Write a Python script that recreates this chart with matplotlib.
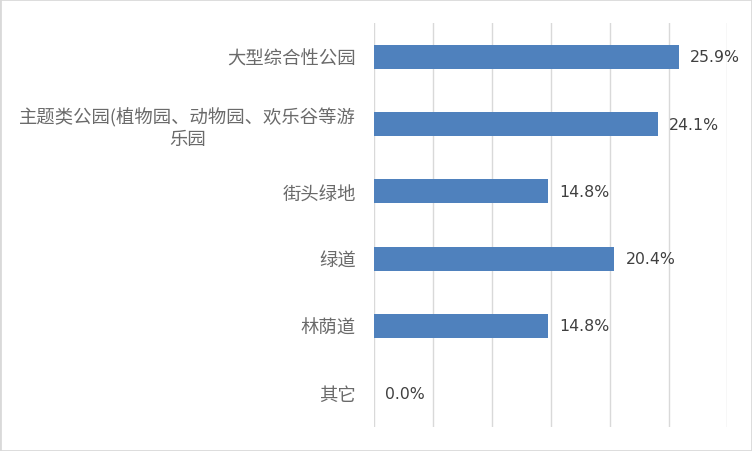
import matplotlib.pyplot as plt
from matplotlib.patches import Rectangle

# Data (top to bottom)
categories = ['大型综合性公园',
              '主题类公园(植物园、动物园、欢乐谷等游\n乐园',
              '街头绿地',
              '绿道',
              '林荫道',
              '其它']
values = [25.9, 24.1, 14.8, 20.4, 14.8, 0.0]
value_labels = ['25.9%', '24.1%', '14.8%', '20.4%', '14.8%', '0.0%']

plt.rcParams['font.family'] = ['Noto Sans CJK SC', 'DejaVu Sans']

fig = plt.figure(figsize=(7.52, 4.52), dpi=100)
ax = fig.add_axes([0.4973, 0.0531, 0.4701, 0.8938])

y = list(range(len(categories)))
ax.barh(y, values, height=0.36, color='#4F81BD', zorder=3)
ax.set_ylim(len(categories) - 0.5, -0.5)
ax.set_xlim(0, 30)
ax.set_xticks(range(0, 31, 5))
ax.set_xticklabels([])
ax.grid(axis='x', color='#D9D9D9', linewidth=1, zorder=0)
ax.tick_params(length=0)
ax.tick_params(axis='y', pad=13)
for s in ax.spines.values():
    s.set_visible(False)

ax.set_yticks(y)
ax.set_yticklabels(categories, fontsize=13.2, color='#6a6a6a', fontweight='light')
for lbl in ax.get_yticklabels():
    lbl.set_multialignment('center')

for yi, v, t in zip(y, values, value_labels):
    ax.annotate(t, xy=(v, yi), xytext=(8, 0), textcoords='offset points',
                ha='left', va='center', fontsize=11.3, color='#404040',
                family=['DejaVu Sans'])

fig.patches.append(Rectangle((0, 0), 1, 1, transform=fig.transFigure,
                             fill=False, edgecolor='#D9D9D9', linewidth=2))

plt.savefig('out.png', dpi=100)
plt.close()
